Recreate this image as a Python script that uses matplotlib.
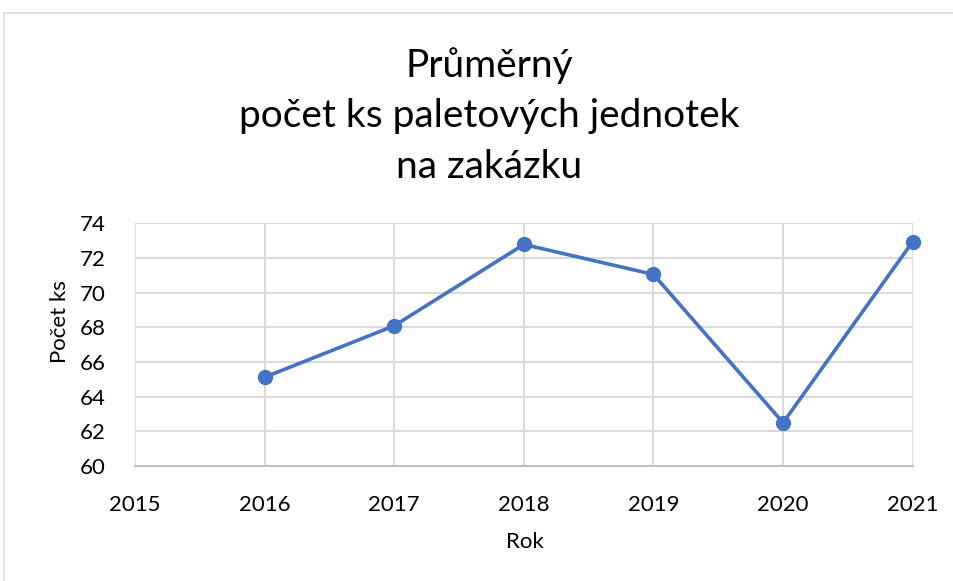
import matplotlib
matplotlib.use("Agg")
import matplotlib.pyplot as plt
from matplotlib.patches import Rectangle

years = [2016, 2017, 2018, 2019, 2020, 2021]
values = [65.12, 68.09, 72.78, 71.05, 62.50, 72.94]
x_ticks = [2015, 2016, 2017, 2018, 2019, 2020, 2021]
y_ticks = [60, 62, 64, 66, 68, 70, 72, 74]
title = "Průměrný\npočet ks paletových jednotek\nna zakázku"

plt.rcParams['font.family'] = ['Lato', 'DejaVu Sans']

W, H = 954, 581
fig = plt.figure(figsize=(W / 100, H / 100), dpi=100)
fig.patch.set_facecolor('white')

# outer chart frame
fig.patches.append(Rectangle((4 / W, -0.01), 1.2, 1 - 13 / H + 0.01, transform=fig.transFigure,
                             fill=False, edgecolor='#d9d9d9', linewidth=1.2))

ax = fig.add_axes([135 / W, 1 - 466 / H, (912.7 - 135) / W, (466 - 223.3) / H])
ax.plot(years, values, color='#4472C4', linewidth=2.6, marker='o', markersize=10,
        markerfacecolor='#4472C4', markeredgecolor='#4472C4', zorder=3, clip_on=False)
ax.set_xlim(2015, 2021)
ax.set_ylim(60, 74)
ax.set_xticks(x_ticks)
ax.set_yticks(y_ticks)
ax.grid(True, color='#d9d9d9', linewidth=1.4)
ax.set_axisbelow(True)
for s in ['top', 'right', 'left']:
    ax.spines[s].set_visible(False)
ax.spines['bottom'].set_color('#bfbfbf')
ax.spines['bottom'].set_linewidth(1.4)
ax.tick_params(axis='both', length=0, labelsize=16, colors='black')
ax.tick_params(axis='x', pad=21)
ax.tick_params(axis='y', pad=21)

fig.text(489 / W, 1 - 116 / H, title, ha='center', va='center', fontsize=28,
         linespacing=1.5)
fig.text(60 / W, 1 - 322 / H, "Počet ks", rotation=90, ha='center', va='center', fontsize=16)
fig.text(525 / W, 1 - 542 / H, "Rok", ha='center', va='center', fontsize=16)

fig.savefig('out.png', dpi=100)
